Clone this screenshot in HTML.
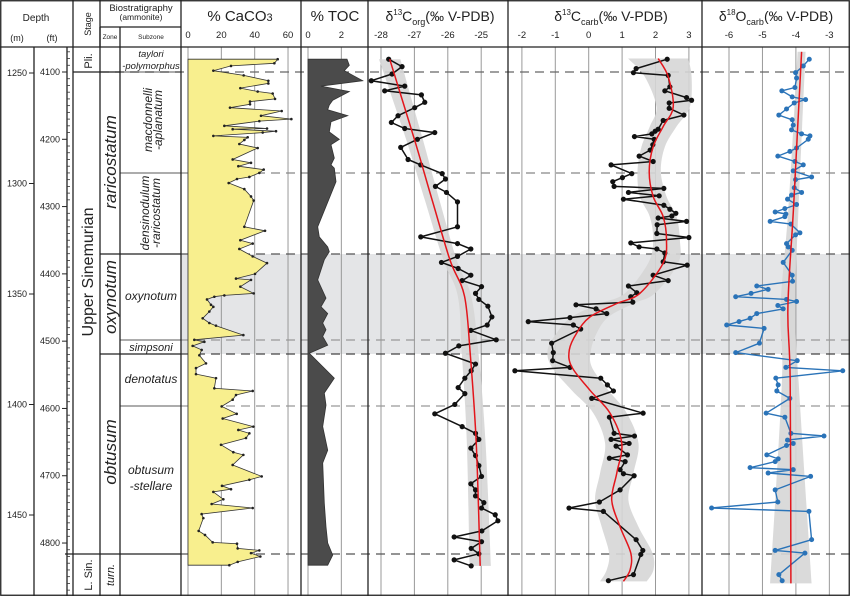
<!DOCTYPE html>
<html><head><meta charset="utf-8"><style>
html,body{margin:0;padding:0;background:#fff}
svg{display:block;font-family:"Liberation Sans",Arial,sans-serif}
</style></head><body>
<svg id="chart" width="850" height="596" viewBox="0 0 850 596" xmlns="http://www.w3.org/2000/svg">
<rect x="0" y="0" width="850" height="596" fill="#fff"/>
<rect x="181" y="254" width="669" height="100" fill="#e4e5e7"/>
<g id="grid"></g>
<g id="plots"></g>
<g id="frame" stroke="#222" stroke-width="1.3" fill="none">
<rect x="0.75" y="0.75" width="848.5" height="594.5"/>
<line x1="0" y1="47" x2="850" y2="47"/>
<line x1="73" y1="0" x2="73" y2="596"/>
<line x1="100" y1="27" x2="100" y2="596"/>
<line x1="100" y1="0" x2="100" y2="47"/>
<line x1="120" y1="27" x2="120" y2="596"/>
<line x1="100" y1="27" x2="181" y2="27"/>
<line x1="181" y1="0" x2="181" y2="596"/>
<line x1="301" y1="0" x2="301" y2="596"/>
<line x1="368" y1="0" x2="368" y2="596"/>
<line x1="508" y1="0" x2="508" y2="596"/>
<line x1="702" y1="0" x2="702" y2="596"/>
<line x1="34" y1="47" x2="34" y2="596"/>
<line x1="67" y1="47" x2="67" y2="596"/>
<line x1="73" y1="72" x2="120" y2="72"/>
<line x1="120" y1="72" x2="181" y2="72" stroke-width="0.8"/>
<line x1="120" y1="173" x2="181" y2="173" stroke-width="0.8"/>
<line x1="100" y1="254" x2="181" y2="254"/>
<line x1="120" y1="340" x2="181" y2="340" stroke-width="0.8"/>
<line x1="100" y1="354" x2="181" y2="354"/>
<line x1="120" y1="406" x2="181" y2="406" stroke-width="0.8"/>
<line x1="65" y1="554" x2="181" y2="554"/>
</g>
<g id="labels" fill="#222">
<text x="36" y="21" font-size="10" text-anchor="middle">Depth</text>
<text x="17" y="41" font-size="9" text-anchor="middle">(m)</text>
<text x="52" y="41" font-size="9" text-anchor="middle">(ft)</text>
<text transform="translate(91,24) rotate(-90)" font-size="9" text-anchor="middle">Stage</text>
<text x="141" y="11" font-size="9.5" text-anchor="middle">Biostratigraphy</text>
<text x="141" y="20" font-size="8.5" text-anchor="middle">(ammonite)</text>
<text x="110" y="39" font-size="6.5" text-anchor="middle">Zone</text>
<text x="151" y="39" font-size="6.5" text-anchor="middle">Subzone</text>
<text x="240" y="21" font-size="15" text-anchor="middle">% CaCO<tspan font-size="11">3</tspan></text>
<text x="335" y="21" font-size="15" text-anchor="middle">% TOC</text>
<text x="440" y="21" font-size="14" text-anchor="middle">δ<tspan font-size="8" dy="-6">13</tspan><tspan dy="6">C</tspan><tspan font-size="9" dy="4">org</tspan><tspan dy="-4">(‰ V-PDB)</tspan></text>
<text x="611" y="21" font-size="14" text-anchor="middle">δ<tspan font-size="8" dy="-6">13</tspan><tspan dy="6">C</tspan><tspan font-size="9" dy="4">carb</tspan><tspan dy="-4">(‰ V-PDB)</tspan></text>
<text x="776" y="21" font-size="14" text-anchor="middle">δ<tspan font-size="8" dy="-6">18</tspan><tspan dy="6">O</tspan><tspan font-size="9" dy="4">carb</tspan><tspan dy="-4">(‰ V-PDB)</tspan></text>
<text transform="translate(92,61) rotate(-90)" font-size="11" text-anchor="middle">Pli.</text>
<text transform="translate(93,272) rotate(-90)" font-size="16" text-anchor="middle">Upper Sinemurian</text>
<text transform="translate(92,575) rotate(-90)" font-size="11" text-anchor="middle">L. Sin.</text>
<g font-style="italic">
<text transform="translate(116,162) rotate(-90)" font-size="17" text-anchor="middle">raricostatum</text>
<text transform="translate(116,297) rotate(-90)" font-size="17" text-anchor="middle">oxynotum</text>
<text transform="translate(116,452) rotate(-90)" font-size="17" text-anchor="middle">obtusum</text>
<text transform="translate(114,575) rotate(-90)" font-size="11" text-anchor="middle">turn.</text>
<text x="151" y="57" font-size="9.5" text-anchor="middle">taylori</text>
<text x="151" y="69" font-size="9.5" text-anchor="middle">-polymorphus</text>
<text transform="translate(152,120) rotate(-90)" font-size="12" text-anchor="middle">macdonnelli</text>
<text transform="translate(162,120) rotate(-90)" font-size="12" text-anchor="middle">-aplanatum</text>
<text transform="translate(149,213) rotate(-90)" font-size="12" text-anchor="middle">densinodulum</text>
<text transform="translate(160,213) rotate(-90)" font-size="12" text-anchor="middle">-raricostatum</text>
<text x="151" y="300" font-size="12" text-anchor="middle">oxynotum</text>
<text x="151" y="351" font-size="11" text-anchor="middle">simpsoni</text>
<text x="151" y="383" font-size="12" text-anchor="middle">denotatus</text>
<text x="151" y="474" font-size="12" text-anchor="middle">obtusum</text>
<text x="151" y="490" font-size="12" text-anchor="middle">-stellare</text>
</g>
</g>
</svg>
<script>
// ---------- data (depth in ft, values) ----------
var mTicks = [1250,1300,1350,1400,1450];
var ftTicks = [4100,4200,4300,4400,4500,4600,4700,4800];
var caTicks = [0,20,40,60];
var tocTicks = [0,2];
var corgTicks = [-28,-27,-26,-25];
var ccTicks = [-2,-1,0,1,2,3];
var oTicks = [-6,-5,-4,-3];

var caDepth = [4081,4087,4091,4098,4105,4113,4117,4124,4129,4132,4140,4144,4148,4153,4158,4165,4170,4173,4180,4184,4185,4188,4190,4195,4197,4201,4207,4213,4230,4235,4240,4245,4250,4256,4259,4265,4274,4285,4291,4330,4336,4350,4355,4363,4374,4384,4400,4407,4409,4419,4429,4432,4434,4438,4446,4449,4456,4466,4473,4477,4491,4498,4501,4507,4513,4521,4533,4540,4549,4555,4570,4574,4580,4587,4597,4608,4615,4627,4632,4637,4644,4654,4665,4669,4684,4701,4706,4715,4720,4724,4735,4742,4748,4757,4763,4782,4788,4799,4801,4808,4811,4815,4820,4828,4833];
var caVal = [53.8,51.8,25.8,15.2,33.4,48.2,48.2,31.4,41.8,50.8,52.2,37.2,37.2,25.2,56.2,43.8,62,42.8,21.8,47.4,26.8,52.8,44.8,15.2,35.8,33.8,30.8,41.8,26.8,37.8,30.2,45.4,42.8,36.8,29.4,24.4,33.8,37.8,39.4,33.8,46.2,31.4,38.8,30.8,38.8,47.4,40.2,28.8,37.8,31.4,39.4,21.8,15.8,11.4,13.8,15.2,12.8,8.8,12.8,16.8,33.2,3.8,9.8,2.8,8.2,6.8,10.8,4.8,4.8,16.8,15.8,38.8,28.8,26.8,20.2,29.2,20.8,39.2,30.2,36.8,34.8,19.8,27.2,33.2,26.8,44.2,36.8,20.4,25.8,15.2,21.2,14.2,38.8,8.2,9.2,6.4,10.2,14.8,29.4,29.8,42.8,37.8,43.4,29.8,24.8];

var tocDepth = [4081,4090,4098,4113,4121,4129,4142,4149,4156,4165,4174,4189,4200,4208,4228,4238,4243,4263,4330,4345,4360,4367,4379,4409,4436,4449,4459,4473,4483,4493,4506,4518,4555,4577,4595,4627,4662,4681,4741,4776,4800,4818,4833];
var tocVal = [2.34,2.48,2.18,3.28,0.78,2.48,1.48,1.28,1.18,2.38,1.38,1.28,1.88,1.38,1.58,1.38,1.58,1.68,0.58,0.68,1.18,1.28,0.98,0.58,1.08,0.78,1.18,0.88,1.08,0.88,1.18,0.08,1.58,0.98,1.08,0.88,1.18,0.88,0.98,1.08,1.18,1.48,1.18];

var corgDepth = [4081,4092,4103,4113,4121,4128,4134,4145,4153,4165,4175,4184,4190,4200,4212,4230,4238,4251,4259,4270,4279,4293,4330,4345,4355,4363,4374,4383,4392,4402,4410,4419,4429,4438,4448,4464,4476,4484,4498,4507,4518,4534,4544,4555,4569,4578,4594,4608,4627,4637,4646,4659,4670,4685,4701,4712,4721,4730,4740,4748,4758,4767,4782,4791,4798,4808,4816,4825,4834];
var corgVal = [-27.77,-27.37,-27.67,-28.29,-27.29,-27.89,-26.79,-26.69,-26.99,-27.49,-27.69,-27.29,-26.39,-26.91,-27.41,-27.19,-26.81,-26.17,-26.07,-26.37,-26.04,-25.71,-25.71,-26.81,-25.71,-25.31,-25.71,-26.19,-25.69,-25.31,-25.57,-24.99,-25.17,-25.07,-24.80,-24.68,-24.82,-25.31,-24.55,-25.67,-26.07,-25.17,-25.30,-25.49,-25.69,-25.49,-25.79,-26.39,-25.57,-25.17,-25.07,-25.31,-25.17,-25.07,-24.99,-25.31,-25.17,-25.17,-24.92,-24.99,-24.58,-24.50,-24.98,-25.81,-24.99,-25.30,-25.07,-25.81,-25.30];
var corgTrendDepth = [4081,4200,4290,4380,4433,4518,4650,4834];
var corgTrendVal = [-27.74,-27.0,-26.47,-25.93,-25.5,-25.33,-25.15,-25.03];
var corgTrendBand = [0.32,0.25,0.22,0.2,0.2,0.25,0.28,0.32];

var ccDepth = [4081,4095,4101,4105,4122,4128,4138,4142,4146,4154,4164,4172,4185,4188,4192,4196,4200,4208,4216,4225,4233,4238,4251,4257,4263,4270,4273,4279,4284,4289,4298,4304,4310,4314,4317,4322,4327,4340,4346,4354,4360,4363,4369,4382,4387,4402,4410,4418,4428,4434,4442,4446,4452,4459,4465,4471,4476,4482,4503,4517,4529,4539,4544,4555,4565,4574,4585,4607,4613,4637,4641,4646,4652,4656,4669,4674,4679,4691,4697,4700,4721,4739,4748,4753,4795,4811,4817,4847,4856];
var ccVal = [2.35,1.42,1.34,2.38,2.43,2.28,2.93,3.08,2.41,2.41,2.85,2.23,2.08,1.99,1.89,1.37,1.96,1.92,1.84,1.51,1.93,0.67,1.29,1.01,0.72,0.76,2.25,1.19,2.11,1.04,2.25,2.43,2.61,2.49,2.08,2.93,2.05,2.04,3.00,1.26,1.51,2.04,2.28,2.23,2.95,1.93,2.38,1.19,1.44,1.26,1.32,-0.38,0.22,0.54,-0.56,-1.81,-0.46,-0.24,-1.11,-1.06,-1.08,-0.56,-2.21,0.36,0.56,0.74,0.09,1.63,0.62,0.76,1.37,0.67,1.21,0.82,1.16,0.62,1.09,0.94,1.04,1.36,0.94,0.32,-0.59,0.44,1.42,1.62,1.56,1.34,0.59];
var ccTrendDepth = [4080,4107,4152,4181,4211,4248,4285,4315,4350,4384,4429,4444,4464,4488,4513,4538,4573,4607,4652,4696,4736,4776,4815,4840,4857];
var ccTrendVal = [2.08,2.38,2.53,2.23,1.93,1.81,1.93,2.23,2.33,2.23,1.53,0.84,0.04,-0.36,-0.58,-0.51,0.04,0.64,0.99,0.84,0.69,0.94,1.26,1.24,1.04];
var ccTrendBand = [0.9,0.7,0.5,0.4,0.35,0.35,0.4,0.4,0.4,0.45,0.45,0.5,0.55,0.6,0.65,0.6,0.55,0.5,0.5,0.5,0.5,0.55,0.65,0.7,0.7];

var oDepth = [4081,4091,4101,4109,4123,4128,4137,4141,4146,4155,4164,4171,4179,4186,4192,4195,4200,4213,4218,4225,4233,4238,4247,4256,4260,4272,4279,4283,4289,4297,4303,4308,4311,4315,4322,4326,4339,4342,4355,4360,4365,4383,4402,4411,4418,4423,4429,4434,4438,4441,4447,4452,4459,4466,4471,4476,4481,4503,4517,4529,4539,4544,4555,4565,4574,4585,4607,4613,4637,4641,4647,4652,4655,4669,4675,4679,4688,4691,4696,4701,4721,4739,4748,4753,4795,4811,4815,4847,4856];
var oVal = [-3.60,-3.78,-4.01,-3.98,-4.03,-4.42,-4.11,-3.71,-4.05,-4.28,-4.51,-4.11,-4.08,-4.13,-3.83,-3.58,-3.63,-3.98,-4.18,-4.54,-4.03,-3.78,-4.08,-3.53,-4.01,-4.05,-3.83,-4.13,-4.25,-3.98,-4.33,-4.62,-4.30,-4.33,-4.77,-4.15,-3.88,-4.01,-4.28,-4.23,-4.11,-4.38,-4.11,-4.10,-5.17,-4.83,-5.34,-5.80,-4.28,-3.98,-4.54,-4.38,-5.17,-5.37,-5.70,-6.07,-4.95,-5.09,-5.80,-3.96,-4.30,-2.60,-4.60,-4.53,-4.57,-4.18,-4.89,-4.33,-4.15,-3.16,-4.25,-4.08,-4.28,-4.87,-4.53,-4.62,-5.37,-4.08,-4.83,-3.56,-4.62,-4.54,-6.52,-3.61,-3.53,-4.62,-3.73,-4.51,-4.41];
var oTrendDepth = [4070,4300,4450,4560,4860];
var oTrendVal = [-3.83,-4.07,-4.24,-4.17,-4.15];
var oTrendBand = [0.12,0.15,0.22,0.25,0.62];

// ---------- scales ----------
function yFt(ft){ return 72 + (ft-4100)*0.6729; }
function yM(m){ return 73 + (m-1250)*2.21; }
function xCa(v){ return 188 + v*1.667; }
function xToc(v){ return 308 + v*16.67; }
function xCorg(v){ return 381 + (v+28)*33.4; }
function xCc(v){ return 588.7 + v*33.4; }
function xO(v){ return 729 + (v+6)*33.45; }

var NS = "http://www.w3.org/2000/svg";
function mk(tag, parent, attrs){
  var e = document.createElementNS(NS, tag);
  for (var k in attrs) e.setAttribute(k, attrs[k]);
  parent.appendChild(e); return e;
}
var grid = document.getElementById('grid');
var plots = document.getElementById('plots');
var labels = document.getElementById('labels');

// vertical grid lines + tick labels
function axis(ticks, fx, name){
  ticks.forEach(function(t){
    var l = mk('line', grid, {x1:fx(t), y1:47, x2:fx(t), y2:596, stroke:'#999', 'stroke-width':1});
    
    
    var tx = mk('text', labels, {x:fx(t), y:38, 'font-size':9.5, 'text-anchor':'middle'});
    tx.textContent = String(t);
    
    
  });
}
axis(caTicks, xCa, 'caco3');
axis(tocTicks, xToc, 'toc');
axis(corgTicks, xCorg, 'corg');
axis(ccTicks, xCc, 'ccarb');
axis(oTicks, xO, 'o18');

// dashed boundaries
[[72,100,'#666'],[173,181,'#888'],[254,181,'#555'],[340,181,'#999'],[354,181,'#444'],[406,181,'#999'],[554,181,'#555']].forEach(function(d){
  var l = mk('line', grid, {x1:d[1], y1:d[0], x2:850, y2:d[0], stroke:d[2], 'stroke-width':1.3, 'stroke-dasharray':'9,6'});
  
  
});

// depth ticks
mTicks.forEach(function(m){
  var y = yM(m);
  var l = mk('line', labels, {x1:29, y1:y, x2:34, y2:y, stroke:'#222', 'stroke-width':1});
  
  
  var t = mk('text', labels, {x:27, y:y+3, 'font-size':9, 'text-anchor':'end'});
  t.textContent = m;
  
  
});
ftTicks.forEach(function(f){
  var y = yFt(f);
  var l = mk('line', labels, {x1:62, y1:y, x2:67, y2:y, stroke:'#222', 'stroke-width':1});
  
  
  var t = mk('text', labels, {x:60, y:y+3, 'font-size':9, 'text-anchor':'end'});
  t.textContent = f;
  
  
});
for (var f = 4070; f <= 4870; f += 10){
  if (f % 100 === 0) continue;
  var mt = mk('line', labels, {x1:67, y1:yFt(f), x2:70, y2:yFt(f), stroke:'#333', 'stroke-width':0.8});
  
  
}

// profile fills
function fillProfile(depth, val, fx, x0, fill, name){
  var n = Math.min(depth.length, val.length);
  var pts = [[x0, yFt(depth[0])]];
  for (var i=0;i<n;i++) pts.push([fx(val[i]), yFt(depth[i])]);
  pts.push([x0, yFt(depth[n-1])]);
  var p = mk('polygon', plots, {points: pts.map(function(q){return q[0].toFixed(1)+','+q[1].toFixed(1);}).join(' '), fill:fill, stroke:'#333', 'stroke-width':0.8});
  
  
}
fillProfile(caDepth, caVal, xCa, xCa(0), '#f8ef8e', 'caco3-area');
fillProfile(tocDepth, tocVal, xToc, xToc(0), '#4b4b4b', 'toc-area');

// smooth path helper
function smooth(pts){
  var d = 'M'+pts[0][0].toFixed(1)+','+pts[0][1].toFixed(1);
  for (var i=0;i<pts.length-1;i++){
    var p0=pts[i-1]||pts[i], p1=pts[i], p2=pts[i+1], p3=pts[i+2]||p2;
    var c1=[p1[0]+(p2[0]-p0[0])/6, p1[1]+(p2[1]-p0[1])/6];
    var c2=[p2[0]-(p3[0]-p1[0])/6, p2[1]-(p3[1]-p1[1])/6];
    d += ' C'+c1[0].toFixed(1)+','+c1[1].toFixed(1)+' '+c2[0].toFixed(1)+','+c2[1].toFixed(1)+' '+p2[0].toFixed(1)+','+p2[1].toFixed(1);
  }
  return d;
}
function trend(depth, val, band, fx, name){
  var n = Math.min(depth.length, val.length, band.length);
  var left=[], right=[], mid=[];
  for (var i=0;i<n;i++){
    var y = yFt(depth[i]);
    left.push([fx(val[i]-band[i]), y]);
    right.push([fx(val[i]+band[i]), y]);
    mid.push([fx(val[i]), y]);
  }
  var r = right.slice().reverse();
  var dBand = smooth(left) + ' L' + r[0][0].toFixed(1)+','+r[0][1].toFixed(1) + smooth(r).slice(smooth(r).indexOf(' C')) + ' Z';
  var b = mk('path', plots, {d:dBand, fill:'#d6d6d6', opacity:0.9});
  
  
  return mid;
}
function series(depth, val, fx, color, r, w, name){
  var n = Math.min(depth.length, val.length);
  var pts = [];
  for (var i=0;i<n;i++) pts.push(fx(val[i]).toFixed(1)+','+yFt(depth[i]).toFixed(1));
  var pl = mk('polyline', plots, {points:pts.join(' '), fill:'none', stroke:color, 'stroke-width':w, 'stroke-linejoin':'round'});
  
  
  for (var j=0;j<n;j++){
    var c = mk('circle', plots, {cx:fx(val[j]), cy:yFt(depth[j]), r:r, fill:color});
    
    
  }
}
function redLine(mid, name){
  var p = mk('path', plots, {d:smooth(mid), fill:'none', stroke:'#e3161c', 'stroke-width':1.5});
  
  
}

// CaCO3 dots
(function(){
  var n = Math.min(caDepth.length, caVal.length);
  for (var i=0;i<n;i++){
    var c = mk('circle', plots, {cx:xCa(caVal[i]), cy:yFt(caDepth[i]), r:1.3, fill:'#222'});
    
    
  }
})();

var m1 = trend(corgTrendDepth, corgTrendVal, corgTrendBand, xCorg, 'corg');
series(corgDepth, corgVal, xCorg, '#111', 2.6, 1.5, 'corg');
redLine(m1, 'corg');

var m2 = trend(ccTrendDepth, ccTrendVal, ccTrendBand, xCc, 'ccarb');
series(ccDepth, ccVal, xCc, '#111', 2.6, 1.5, 'ccarb');
redLine(m2, 'ccarb');

var m3 = trend(oTrendDepth, oTrendVal, oTrendBand, xO, 'o18');
series(oDepth, oVal, xO, '#2a73b8', 2.5, 1.4, 'o18');
redLine(m3, 'o18');
</script>
</body></html>
